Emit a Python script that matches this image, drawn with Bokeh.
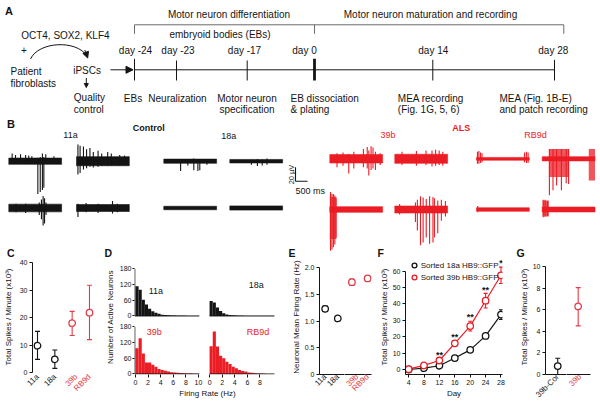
import math
from bokeh.plotting import figure
from bokeh.models import (Range1d, Label, Arrow, NormalHead, FixedTicker, Legend, LegendItem,
                          Whisker, TeeHead, ColumnDataSource, CustomJSTickFormatter)
from bokeh.layouts import column, row
from bokeh.embed import file_html
from bokeh.resources import INLINE
from bokeh.core.properties import value

FONT = "Liberation Sans"
BLACK = "#141414"
RED = "#ec1c24"
PRED = "#e23d47"
GREY = "#5a5a5a"

# ---------------- data ----------------
# Panel A: protocol timeline
phase_labels = ["Motor neuron differentiation", "Motor neuron maturation and recording"]
day_labels = ["day -24", "day -23", "day -17", "day 0", "day 14", "day 28"]
stage_line1 = ["EBs", "Neuralization", "Motor neuron", "EB dissociation", "MEA recording", "MEA (Fig. 1B-E)"]
stage_line2 = ["", "", "specification", "& plating", "(Fig. 1G, 5, 6)", "and patch recording"]

# Panel B: MEA traces, 2200 ms each.
# each trace: (noise half-amplitude uV, spikes [(ms, up uV, down uV)], bursts [(ms0, ms1, up uV, down uV)])
traces_11a = [
    (4.5, [(140, 11, 3), (280, 9, 3), (490, 10, 2), (700, 9, 3), (830, 8, 3), (960, 7, 3), (1210, 5, 47),
           (1310, 6, 44), (1400, 11, 41), (1460, 6, 38), (1540, 10, 4), (1880, 7, 3)], []),
    (6.5, [(60, 24, 19), (150, 22, 17), (290, 21, 12), (420, 17, 10), (560, 19, 8), (700, 13, 9), (900, 15, 8),
           (1050, 11, 7), (1300, 13, 7), (1450, 11, 6), (1800, 9, 6), (2000, 8, 5)], []),
    (5.5, [(300, 6, 6), (700, 6, 7), (1270, 8, 10), (1360, 12, 16), (1430, 17, 25), (1490, 14, 22), (1550, 8, 10)], []),
    (5.0, [(60, 6, 13), (400, 7, 6), (900, 6, 7), (1500, 10, 8), (1700, 6, 6)], []),
]
traces_18a = [
    (3.0, [(700, 3, 14), (1000, 3, 6), (1250, 4, 13), (1420, 3, 14), (1500, 3, 13), (1800, 3, 5)], []),
    (2.5, [(900, 2, 5), (1150, 3, 7), (1350, 2, 6), (1550, 4, 5)], []),
    (2.5, [], []),
    (3.0, [], []),
]
traces_39b = [
    (6.0, [(300, 8, 12), (550, 9, 10), (790, 7, 21), (1000, 10, 14), (1400, 14, 12), (1560, 17, 14), (1625, 12, 24),
           (1720, 18, 16), (1800, 16, 14), (1900, 10, 16), (2100, 8, 9)], []),
    (6.5, [(300, 10, 9), (900, 11, 10), (1300, 12, 9), (1550, 12, 11), (1700, 13, 10), (1850, 12, 9), (2000, 10, 10)], []),
    (4.0, [(30, 25, 59), (90, 22, 57), (150, 22, 54), (210, 20, 50), (260, 16, 40)], [(0, 280, 18, 42)]),
    (5.0, [(200, 8, 7), (860, 10, 18), (940, 14, 30), (1070, 19, 51), (1180, 17, 47), (1310, 15, 40), (1450, 19, 49),
           (1590, 18, 47), (1650, 16, 40), (1790, 13, 34), (1940, 14, 16), (2110, 12, 10)], []),
]
traces_RB9d = [
    (2.0, [(40, 10, 7), (100, 11, 7), (170, 9, 6), (230, 8, 5), (2000, 9, 5), (2080, 10, 6), (2150, 9, 6)], []),
    (3.0, [(300, 14, 52), (450, 14, 45), (600, 14, 38), (800, 14, 45), (1000, 14, 35), (1100, 14, 36)],
     [(280, 1120, 14, 26), (1940, 2200, 14, 31)]),
    (2.5, [(50, 5, 4)], []),
    (3.5, [(40, 14, 11), (120, 14, 10), (220, 12, 9)], [(20, 280, 13, 10)]),
]

# Panel C: total spikes / minute (x10^3)
c_lines = ["11a", "18a", "39b", "RB9d"]
c_mean = [9.8, 4.8, 18.0, 21.8]
c_lo = [4.8, 1.5, 13.5, 12.0]
c_hi = [15.0, 8.2, 22.3, 31.8]

# Panel D: firing-rate histograms (0.5 Hz bins)
hist_bins = [0, 0.5, 1, 1.5, 2, 2.5, 3, 3.5, 4, 4.5, 5, 5.5, 6, 6.5, 7, 7.5, 8, 8.5, 9, 9.5]
hist_11a = [114, 100, 62, 44, 28, 18, 12, 8, 5, 4, 3, 2, 2, 1, 1, 1, 0, 0, 0, 0]
hist_18a = [57, 51, 32, 19, 10, 6, 4, 3, 2, 1, 1, 0, 0, 0, 0, 0, 0, 0, 0, 0]
hist_39b = [98, 137, 78, 44, 44, 35, 28, 19, 15, 12, 9, 7, 6, 5, 4, 3, 2, 2, 1, 1]
hist_RB9d = [106, 162, 105, 70, 60, 47, 38, 28, 22, 15, 11, 9, 6, 5, 3, 2, 2, 1, 0, 0]

# Panel E: neuronal mean firing rate (Hz)
e_lines = ["11a", "18a", "39b", "RB9d"]
e_mean = [1.23, 1.05, 1.73, 1.80]
e_err = [0.05, 0.03, 0.06, 0.04]

# Panel F: sorted HB9::GFP time course
f_days = [4, 8, 12, 16, 20, 24, 28]
f_18a = [0.0, 0.8, 2.3, 7.0, 12.0, 20.5, 33.5]
f_18a_err = [0.4, 0.5, 0.7, 0.8, 1.0, 1.2, 3.0]
f_39b = [0.2, 2.5, 5.5, 16.0, 26.5, 42.0, 57.5]
f_39b_err = [0.4, 0.8, 1.0, 1.5, 3.0, 4.5, 5.0]
f_sig = ["", "", "**", "**", "**", "**", "*"]

# Panel G
g_lines = ["39b-Cor", "39b"]
g_mean = [0.78, 6.3]
g_lo = [0.0, 4.5]
g_hi = [1.5, 8.05]

YLAB = "Total Spikes / Minute (x10\u00b3)"
H_BOT = 147


# ---------------- helpers ----------------
def lbl(p, x, y, s, size="10px", align="left", color=BLACK, style="normal", angle=0.0, baseline="middle"):
    p.add_layout(Label(x=x, y=y, text=s, text_font=FONT, text_font_size=size, text_align=align,
                       text_baseline=baseline, text_color=color, text_font_style=style, angle=angle))


def style_axes(p):
    p.outline_line_color = None
    p.xgrid.visible = False
    p.ygrid.visible = False
    for ax in p.axis:
        ax.major_label_text_font = FONT
        ax.major_label_text_font_size = "7px"
        ax.major_label_text_color = BLACK
        ax.axis_label_text_font = FONT
        ax.axis_label_text_font_size = "8px"
        ax.axis_label_text_font_style = "normal"
        ax.axis_label_text_color = BLACK
        ax.minor_tick_line_color = None
        ax.major_tick_in = 0
        ax.major_tick_out = 3
        ax.axis_line_color = BLACK
        ax.major_tick_line_color = BLACK
        ax.major_label_standoff = 2
        ax.axis_label_standoff = 1


def mk(width, x_range, y_range, left, right, bottom):
    p = figure(width=width, height=H_BOT, x_range=x_range, y_range=y_range, output_backend="svg",
               toolbar_location=None, min_border_left=left, min_border_right=right,
               min_border_top=0, min_border_bottom=bottom)
    style_axes(p)
    return p


def cat_axis(p, xs, names, color, show_line):
    ax = p.xaxis[0]
    ax.ticker = FixedTicker(ticks=xs)
    ax.major_label_overrides = {x: n for x, n in zip(xs, names)}
    ax.major_label_orientation = math.pi / 4
    ax.major_label_text_font_size = "8px"
    ax.major_label_text_color = color
    ax.major_tick_out = 0
    ax.major_label_standoff = 1
    if not show_line:
        ax.axis_line_color = None


def err_dots(p, xs, mean, lo, hi, color, head=5):
    src = ColumnDataSource(dict(x=xs, lo=lo, hi=hi))
    p.add_layout(Whisker(source=src, base="x", lower="lo", upper="hi", line_color=color, line_width=1.1,
                         lower_head=TeeHead(size=head, line_color=color, line_width=1.1),
                         upper_head=TeeHead(size=head, line_color=color, line_width=1.1)))
    return p.scatter(xs, mean, size=6.5, fill_color="white", line_color=color, line_width=1.3)


# ---------------- panels A + B (schematic canvas) ----------------
pab = figure(width=600, height=259, x_range=Range1d(0, 600), y_range=Range1d(259, 0),
             x_axis_type=None, y_axis_type=None, output_backend="svg", toolbar_location=None, min_border=0)
pab.outline_line_color = None

lbl(pab, 4.5, 10, "A", size="11px", style="bold")
lbl(pab, 6.5, 123.3, "B", size="11px", style="bold")
for letter, lx in [("C", 6.5), ("D", 104), ("E", 288), ("F", 377), ("G", 516)]:
    lbl(pab, lx, 258.2, letter, size="10.5px", style="bold", baseline="bottom")

# phase brackets
pab.segment(x0=[134], y0=[24.3], x1=[563.3], y1=[24.3], line_color=GREY, line_width=0.9)
pab.segment(x0=[134, 314, 563.3], y0=[24.3] * 3, x1=[134, 314, 563.3], y1=[33.3] * 3, line_color=GREY, line_width=0.9)
lbl(pab, 228.5, 14, phase_labels[0], align="center")
lbl(pab, 430, 14, phase_labels[1], align="center")
lbl(pab, 219.5, 34, "embryoid bodies (EBs)", align="center")

# reprogramming
lbl(pab, 20.7, 35, "OCT4, SOX2, KLF4")
lbl(pab, 23.3, 49, "+", align="center")
pab.bezier(x0=[30], y0=[58.5], x1=[86.5], y1=[55.5], cx0=[38], cy0=[41], cx1=[76], cy1=[39],
           line_color=BLACK, line_width=1)
pab.add_layout(Arrow(x_start=84.3, y_start=49.5, x_end=87.2, y_end=57.5,
                     end=NormalHead(size=6, fill_color=BLACK, line_color=BLACK), line_color=BLACK, line_width=1))
lbl(pab, 10, 71, "Patient")
lbl(pab, 10, 82.5, "fibroblasts")
lbl(pab, 72.7, 70, "iPSCs")
pab.add_layout(Arrow(x_start=85.8, y_start=77.5, x_end=85.8, y_end=87,
                     end=NormalHead(size=4, fill_color=BLACK, line_color=BLACK), line_color=BLACK, line_width=1))
lbl(pab, 73.3, 97, "Quality")
lbl(pab, 73.3, 108.5, "control")
pab.add_layout(Arrow(x_start=110, y_start=69.3, x_end=132.5, y_end=69.3,
                     end=NormalHead(size=7, fill_color=BLACK, line_color=BLACK), line_color=BLACK, line_width=1))

# timeline
tick_x = [134, 176, 246.7, 314, 432.3, 554]
tick_top = [58.3, 60, 60, 58.3, 59.3, 59.3]
day_x = [135, 177.5, 244, 304, 432.8, 552.8]
pab.segment(x0=[134], y0=[69.3], x1=[554], y1=[69.3], line_color=BLACK, line_width=1)
pab.segment(x0=tick_x, y0=tick_top, x1=tick_x, y1=[80] * 6, line_color=BLACK,
            line_width=[1, 1, 1, 2.8, 1, 1])
for i, d in enumerate(day_labels):
    lbl(pab, day_x[i], 50, d, align="center")
stage_x = [132.5, 177, 246.5, 290, 397.3, 499]
stage_align = ["center", "center", "center", "left", "left", "left"]
for i in range(6):
    lbl(pab, stage_x[i], 97.5, stage_line1[i], align=stage_align[i])
    if stage_line2[i]:
        lbl(pab, stage_x[i], 108.7, stage_line2[i], align=stage_align[i])

# panel B traces
MS_PX = 12 / 500.0   # 500 ms scale bar length in px
UV_PX = 14 / 20.0    # 20 uV scale bar length in px
TRACE_MS = 2200
trace_x0 = {"11a": [8.3, 76.0], "18a": [163.3, 229.3], "39b": [329.3, 394.3], "RB9d": [476.0, 541.7]}
trace_yc = {"11a": [160.7, 207.5], "18a": [160.7, 207.5], "39b": [158.3, 209.0], "RB9d": [158.3, 209.0]}
groups = [("11a", traces_11a, BLACK), ("18a", traces_18a, BLACK), ("39b", traces_39b, RED), ("RB9d", traces_RB9d, RED)]
for name, trs, col in groups:
    bl, br, bt, bb = [], [], [], []
    ql, qr, qt, qb = [], [], [], []
    sx, sy0, sy1 = [], [], []
    for k, (noise, spikes, bursts) in enumerate(trs):
        x0 = trace_x0[name][k % 2]
        yc = trace_yc[name][k // 2]
        bl.append(x0); br.append(x0 + TRACE_MS * MS_PX)
        bt.append(yc - noise * UV_PX); bb.append(yc + noise * UV_PX)
        for (m0, m1, up, dn) in bursts:
            ql.append(x0 + m0 * MS_PX); qr.append(x0 + m1 * MS_PX)
            qt.append(yc - up * UV_PX); qb.append(yc + dn * UV_PX)
        for (ms, up, dn) in spikes:
            sx.append(x0 + ms * MS_PX)
            sy0.append(yc - up * UV_PX); sy1.append(yc + dn * UV_PX)
    if ql:
        pab.quad(left=ql, right=qr, top=qt, bottom=qb, fill_color=col, fill_alpha=0.75, line_color=None)
    pab.quad(left=bl, right=br, top=bt, bottom=bb, fill_color=col, line_color=col, line_width=0.6)
    pab.segment(x0=sx, y0=sy0, x1=sx, y1=sy1, line_color=col, line_width=1.1)

lbl(pab, 148.3, 127.3, "Control", size="9px", style="bold", align="center")
lbl(pab, 460.8, 127.3, "ALS", size="9px", style="bold", align="center", color=RED)
lbl(pab, 70, 134.3, "11a", size="9px", align="center")
lbl(pab, 228.3, 135, "18a", size="9px", align="center")
lbl(pab, 387.5, 134, "39b", size="9px", align="center", color=RED)
lbl(pab, 535, 134, "RB9d", size="9px", align="center", color=RED)
# scale bar
sb_x, sb_y = 295.0, 180.8
pab.segment(x0=[sb_x, sb_x], y0=[sb_y - 20 * UV_PX, sb_y], x1=[sb_x, sb_x + 500 * MS_PX], y1=[sb_y, sb_y],
            line_color=BLACK, line_width=1.1)
lbl(pab, 290.5, 174, "20 \u00b5V", size="7.5px", align="center", angle=math.pi / 2)
lbl(pab, 295, 190, "500 ms", size="9px")

# ---------------- panel C (two halves: black / red category labels) ----------------
C_Y = Range1d(-0.72, 41.2)
pc1 = mk(63, Range1d(0.711, 2.50), C_Y, 32, 0, 30)
pc2 = mk(39, Range1d(2.50, 4.52), C_Y, 0, 4, 30)
pc1.yaxis.ticker = FixedTicker(ticks=[0, 10, 20, 30, 40])
pc1.yaxis.bounds = (0, 40)
pc1.yaxis.axis_label = YLAB
pc1.yaxis.axis_label_standoff = 4
pc2.yaxis.visible = False
cat_axis(pc1, [1, 2], c_lines[:2], BLACK, False)
cat_axis(pc2, [3, 4], c_lines[2:], PRED, False)
err_dots(pc1, [1, 2], c_mean[:2], c_lo[:2], c_hi[:2], BLACK)
err_dots(pc2, [3, 4], c_mean[2:], c_lo[2:], c_hi[2:], PRED)

# ---------------- panel D ----------------
XOFF = 11.77
YOFF = 221.8
pd = mk(186, Range1d(-0.15, 23.03), Range1d(-2, 437.6), 25, 8, 32)
pd.xaxis.ticker = FixedTicker(ticks=[0, 2, 4, 6, 8, 10, XOFF, XOFF + 2, XOFF + 4, XOFF + 6, XOFF + 8])
pd.xaxis.formatter = CustomJSTickFormatter(code="const off = %f; const v = tick > off - 0.01 ? tick - off : tick; return Math.round(v).toString();" % XOFF)
pd.xaxis.axis_line_color = None
pd.xaxis.axis_label = "Firing Rate (Hz)"
pd.yaxis.ticker = FixedTicker(ticks=[0, 60, 120, 180, YOFF, YOFF + 60, YOFF + 120, YOFF + 180])
pd.yaxis.formatter = CustomJSTickFormatter(code="const off = %f; const v = tick > off - 0.5 ? tick - off : tick; return Math.round(v).toString();" % YOFF)
pd.yaxis.axis_line_color = None
pd.yaxis.axis_label = "Number of Active Neurons"
pd.yaxis.axis_label_standoff = 2
pd.yaxis.major_tick_out = 2
pd.yaxis.major_label_standoff = 1
hists = [(hist_11a, 0, YOFF, BLACK), (hist_18a, XOFF, YOFF, BLACK), (hist_39b, 0, 0, RED), (hist_RB9d, XOFF, 0, RED)]
for counts, xo, yo, col in hists:
    pd.quad(left=[b + xo for b in hist_bins], right=[b + 0.5 + xo for b in hist_bins],
            bottom=[yo] * len(counts), top=[c + yo for c in counts], fill_color=col, line_color=None)
# axis lines / baselines of the four sub-panels
pd.segment(x0=[-0.1, -0.1, -0.1, XOFF, -0.1, XOFF], y0=[0, YOFF, 0, 0, YOFF, YOFF],
           x1=[-0.1, -0.1, 10.15, XOFF + 10.3, 10.15, XOFF + 10.3], y1=[180, YOFF + 180, 0, 0, YOFF, YOFF],
           line_color=BLACK, line_width=1)
lbl(pd, 2.1, YOFF + 95, "11a", size="9px")
lbl(pd, XOFF + 6.2, YOFF + 117, "18a", size="9px")
lbl(pd, 1.8, 161, "39b", size="9px", color=RED)
lbl(pd, XOFF + 5.9, 161, "RB9d", size="9px", color=RED)

# ---------------- panel E (two halves) ----------------
E_Y = Range1d(0, 2.154)
pe1 = mk(56, Range1d(0.554, 2.528), E_Y, 25, 0, 32)
pe2 = mk(32, Range1d(2.528, 4.248), E_Y, 0, 5, 32)
pe1.yaxis.ticker = FixedTicker(ticks=[0, 0.5, 1, 1.5, 2])
pe1.yaxis.formatter = CustomJSTickFormatter(code="return tick == 0 ? '0' : tick.toFixed(1);")
pe1.yaxis.bounds = (0, 2)
pe1.yaxis.axis_label = "Neuronal Mean Firing Rate (Hz)"
pe2.yaxis.visible = False
cat_axis(pe1, [1, 2], e_lines[:2], BLACK, True)
cat_axis(pe2, [3, 4], e_lines[2:], PRED, True)
err_dots(pe1, [1, 2], e_mean[:2], [m - e for m, e in zip(e_mean[:2], e_err[:2])],
         [m + e for m, e in zip(e_mean[:2], e_err[:2])], BLACK)
err_dots(pe2, [3, 4], e_mean[2:], [m - e for m, e in zip(e_mean[2:], e_err[2:])],
         [m + e for m, e in zip(e_mean[2:], e_err[2:])], PRED)

# ---------------- panel F ----------------
pf = mk(140, Range1d(3.19, 28.39), Range1d(-3.05, 67.15), 23, 14, 32)
pf.xaxis.ticker = FixedTicker(ticks=f_days)
pf.xaxis.axis_label = "Day"
pf.yaxis.ticker = FixedTicker(ticks=[0, 10, 20, 30, 40, 50, 60])
pf.yaxis.bounds = (-3.05, 60)
pf.yaxis.axis_label = YLAB
pf.line(f_days, f_18a, line_color=BLACK, line_width=1.2)
pf.line(f_days, f_39b, line_color=RED, line_width=1.2)
r18 = err_dots(pf, f_days, f_18a, [v - e for v, e in zip(f_18a, f_18a_err)],
               [v + e for v, e in zip(f_18a, f_18a_err)], BLACK, head=4)
r39 = err_dots(pf, f_days, f_39b, [v - e for v, e in zip(f_39b, f_39b_err)],
               [v + e for v, e in zip(f_39b, f_39b_err)], RED, head=4)
star_y = [v + e + 2.3 for v, e in zip(f_39b, f_39b_err)]
pf.text(x=f_days, y=star_y, text=f_sig, text_font=value(FONT), text_font_size=value("9px"),
        text_font_style="bold", text_align="center", text_baseline="alphabetic", text_color=BLACK)
legend = Legend(items=[LegendItem(label="Sorted 18a HB9::GFP", renderers=[r18]),
                       LegendItem(label="Sorted 39b HB9::GFP", renderers=[r39])],
                location=(2.7, 91), glyph_width=12, glyph_height=12, label_height=12, label_standoff=1,
                spacing=0, padding=0, margin=0, border_line_color=None, background_fill_alpha=0,
                label_text_font=FONT, label_text_font_size="8px", label_text_color=BLACK)
pf.add_layout(legend)

# ---------------- panel G (two halves) ----------------
G_Y = Range1d(0, 10.65)
pg1 = mk(50, Range1d(0.303, 1.5), G_Y, 22, 0, 32)
pg2 = mk(34, Range1d(1.5, 2.526), G_Y, 0, 10, 32)
pg1.yaxis.ticker = FixedTicker(ticks=[0, 2, 4, 6, 8, 10])
pg1.yaxis.bounds = (0, 10)
pg1.yaxis.axis_label = YLAB
pg2.yaxis.visible = False
cat_axis(pg1, [1], g_lines[:1], BLACK, True)
cat_axis(pg2, [2], g_lines[1:], PRED, True)
err_dots(pg1, [1], g_mean[:1], g_lo[:1], g_hi[:1], BLACK)
err_dots(pg2, [2], g_mean[1:], g_lo[1:], g_hi[1:], PRED)

layout = column(pab, row(pc1, pc2, pd, pe1, pe2, pf, pg1, pg2, spacing=0), spacing=0)
open("out.html", "w").write(file_html(layout, INLINE))
